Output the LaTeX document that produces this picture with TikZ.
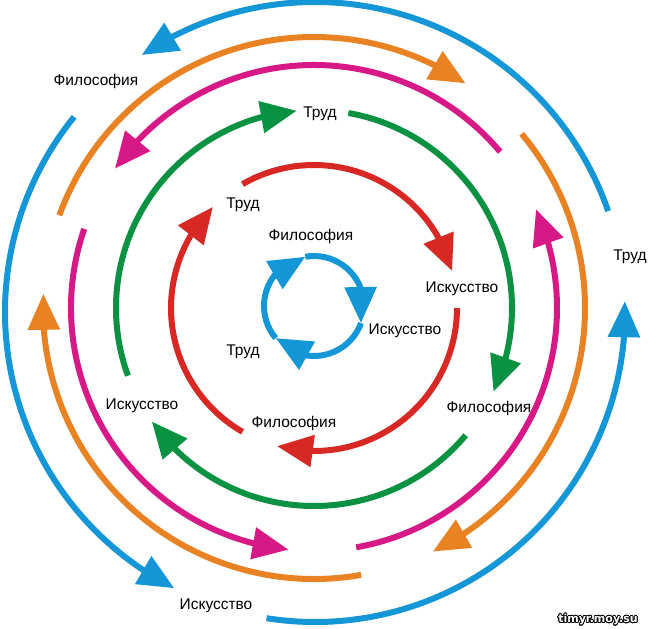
\documentclass[tikz,border=0pt]{standalone}
\usepackage{fontspec}
\setmainfont{Liberation Sans}
\newfontfamily\wmfont{DejaVu Sans}
\usepackage{contour}
\contourlength{0.8pt}
\usetikzlibrary{arrows.meta,bending}
\definecolor{cblue}{RGB}{20,150,215}
\definecolor{cred}{RGB}{215,40,35}
\definecolor{cgreen}{RGB}{10,145,65}
\definecolor{cpink}{RGB}{215,25,135}
\definecolor{corange}{RGB}{232,130,35}
\begin{document}
\begin{tikzpicture}[x=1pt,y=1pt,font=\fontsize{15.5}{18}\selectfont,
    ring/.style={line width=6pt,-{Triangle[length=36pt,width=31pt,flex]}}]
	\useasboundingbox (-314,-321) rectangle (334,308);
	% inner circle
	\foreach \s/\e in {220/100,100/-20,-20/-140}
		\draw[ring,cblue] ([shift={(0,2)}]\s:50) arc[start angle=\s,end angle=\e,radius=50];
	\foreach \s/\e in {120/15,0/-105,-120/-225}
		\draw[ring,cred] (\s:143) arc[start angle=\s,end angle=\e,radius=143];
	\foreach \s/\e in {80/-25,-40/-145,200/95}
		\draw[ring,cgreen] (\s:198) arc[start angle=\s,end angle=\e,radius=198];
	\foreach \s/\e in {40/145,161/264,280/384}
		\draw[ring,cpink] (\s:243) arc[start angle=\s,end angle=\e,radius=243];
	\foreach \s/\e in {160/56,40/-64,-80/-183}
		\draw[ring,corange] (\s:271) arc[start angle=\s,end angle=\e,radius=271];
	% outer circle
	\foreach \s/\e in {19/124,141/243,261/362}
		\draw[ring,cblue] ([shift={(1,-4)}]\s:310) arc[start angle=\s,end angle=\e,radius=310];
	\node (fi0) at (-3,72) {Философия};
	\node (is0) at (91,-23) {Искусство};
	\node (tr0) at (-71,-44) {Труд};
	\node (tr1) at (-71,103) {Труд};
	\node (is1) at (148,19) {Искусство};
	\node (fi1) at (-20,-115) {Философия};
	\node (tr2) at (6,194) {Труд};
	\node (fi2) at (175,-100) {Философия};
	\node (is2) at (-172,-98) {Искусство};
	\node (fi3) at (-218,227) {Философия};
	\node (tr3) at (316,51) {Труд};
	\node (is3) at (-98,-298) {Искусство};
	\node (wm) at (284,-312) {\wmfont\bfseries\fontsize{11}{12}\selectfont\contour{black}{\textcolor{white}{timyr.moy.su}}};
\end{tikzpicture}
\end{document}
